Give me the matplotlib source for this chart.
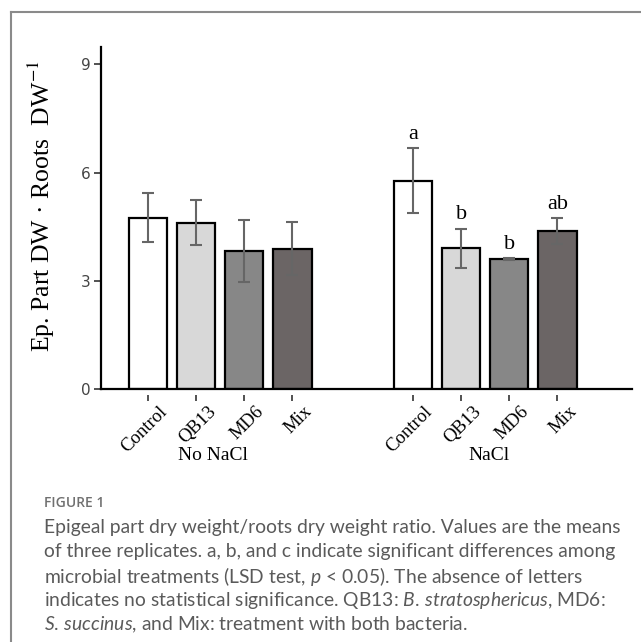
import matplotlib.pyplot as plt
from matplotlib.lines import Line2D
from matplotlib.transforms import ScaledTranslation
import numpy as np

plt.rcParams['mathtext.fontset'] = 'stix'

treatments = ['Control', 'QB13', 'MD6', 'Mix']
groups = ['No NaCl', 'NaCl']
means_no_nacl = [4.75, 4.61, 3.82, 3.89]
err_no_nacl = [0.68, 0.62, 0.86, 0.73]
means_nacl = [5.77, 3.90, 3.61, 4.39]
err_nacl = [0.90, 0.55, 0.03, 0.36]
letters_nacl = ['a', 'b', 'b', 'ab']
bar_colors = ['#ffffff', '#d8d8d8', '#878787', '#6b6565']

W, H = 641, 642
fig = plt.figure(figsize=(W / 100, H / 100), dpi=100)

def fx(px):
    return px / W

def fy(py):
    return 1 - py / H

# plot area in pixel coords
left, right, top, bottom = 100.7, 631.7, 47, 389.3
ax = fig.add_axes([fx(left), fy(bottom), fx(right - left), fy(top) - fy(bottom)])

offset = 5.5
pos_a = np.arange(4)
pos_b = np.arange(4) + offset
pos = np.concatenate([pos_a, pos_b])
means = means_no_nacl + means_nacl
errs = err_no_nacl + err_nacl

ax.bar(pos, means, width=0.79, color=bar_colors * 2, edgecolor='black',
       linewidth=1.6, zorder=2)
ax.errorbar(pos, means, yerr=errs, fmt='none', ecolor='#666666',
            elinewidth=1.5, capsize=4, capthick=1.5, zorder=3)

for x, m, e, lab in zip(pos_b, means_nacl, err_nacl, letters_nacl):
    ax.annotate(lab, (x, m + e), xytext=(0, 3), textcoords='offset points',
                ha='center', va='bottom', fontsize=16,
                family='Liberation Serif')

# spines first: moving a spine rebuilds the ticks
for side in ['top', 'right']:
    ax.spines[side].set_visible(False)
ax.spines['left'].set_linewidth(1.6)
ax.spines['bottom'].set_position(('outward', 4))
ax.spines['bottom'].set_visible(False)
ax.axhline(0, color='black', linewidth=1.6, zorder=4, clip_on=False)

ax.set_xlim(-0.98, 10.04)
ax.set_ylim(0, 9.48)
ax.set_yticks([0, 3, 6, 9])
ax.tick_params(axis='y', length=5, width=1.2, color='#333333',
               labelsize=11, labelcolor='#444444', pad=2)

ax.set_xticks(pos)
ax.tick_params(axis='x', length=4, width=1.2, color='#333333', pad=4)
ax.set_xticklabels(treatments * 2, rotation=45, ha='right', va='top',
                   rotation_mode='anchor', family='Liberation Serif',
                   fontsize=13.5)
shift = ScaledTranslation(8 / 72, 2 / 72, fig.dpi_scale_trans)
for lbl in ax.get_xticklabels():
    lbl.set_transform(lbl.get_transform() + shift)

ax.set_ylabel('Ep. Part DW · Roots  DW$^{-1}$', fontsize=18.5,
              family='Liberation Serif')
ax.yaxis.set_label_coords(-0.082, 0.535)

# group labels under each set of bars
fig.text(fx(213), fy(456), groups[0], ha='center', va='center',
         family='Liberation Serif', fontsize=14)
fig.text(fx(489), fy(456), groups[1], ha='center', va='center',
         family='Liberation Serif', fontsize=14)

# caption block
fig.text(fx(44), fy(503), 'FIGURE 1', ha='left', va='center',
         family='Open Sans', fontweight='semibold', fontsize=10,
         color='#707070')
caption = [
    'Epigeal part dry weight/roots dry weight ratio. Values are the means',
    'of three replicates. a, b, and c indicate significant differences among',
    'microbial treatments (LSD test, $p$ < 0.05). The absence of letters',
    'indicates no statistical significance. QB13: $B.$$\\,$$stratosphericus$, MD6:',
    '$S.$$\\,$$succinus$, and Mix: treatment with both bacteria.',
]
plt.rcParams['mathtext.fontset'] = 'custom'
plt.rcParams['mathtext.it'] = 'Lato:italic'
plt.rcParams['mathtext.rm'] = 'Lato'
for i, line in enumerate(caption):
    fig.text(fx(44), fy(527 + i * 24.5), line, ha='left', va='center',
             family='Lato', fontsize=13.9, color='#5a5a5a')

# frame
frame_kw = dict(color='#8a8a8a', linewidth=1.5, transform=fig.transFigure)
fig.add_artist(Line2D([fx(11), 1], [fy(12), fy(12)], **frame_kw))
fig.add_artist(Line2D([fx(11), fx(11)], [fy(12), 0], **frame_kw))

fig.savefig('out.png', dpi=100)
